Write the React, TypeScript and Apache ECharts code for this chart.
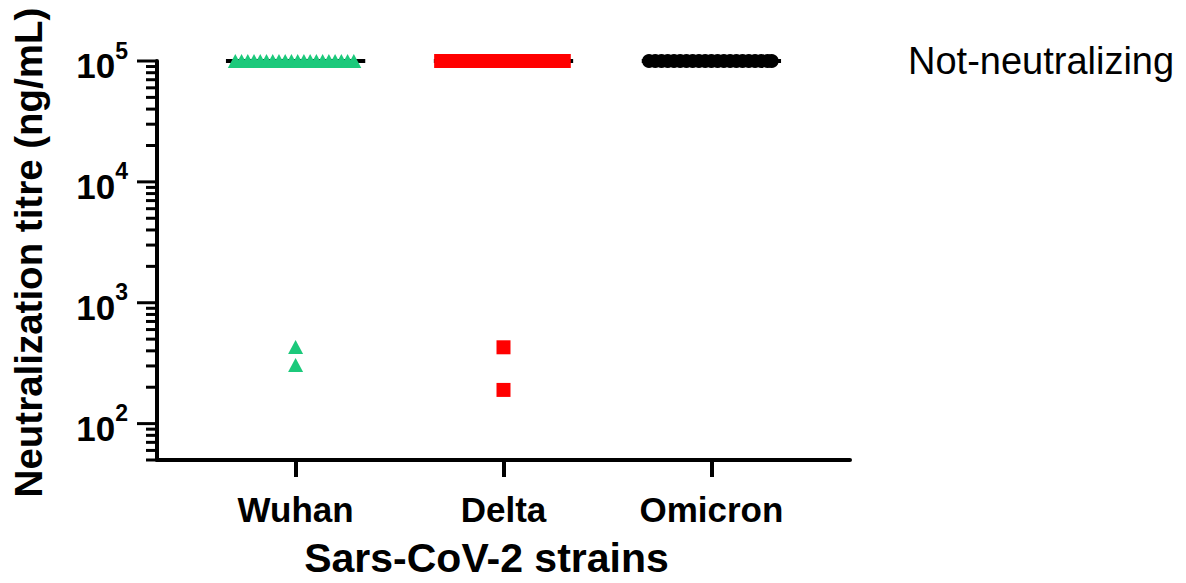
import React, { useEffect, useRef } from "react";
import * as echarts from "echarts";

const strains = ["Wuhan", "Delta", "Omicron"];
const strainPos = [1, 2, 3];

// x positions of the spread points plotted at the not-neutralizing ceiling (1e5)
const wuhanTopX = [0.71, 0.74, 0.77, 0.8, 0.83, 0.86, 0.89, 0.92, 0.95, 0.98, 1.01, 1.04, 1.07, 1.1, 1.13, 1.16, 1.19, 1.22, 1.25, 1.28];
const deltaTopX = [1.7, 1.73, 1.76, 1.79, 1.82, 1.85, 1.88, 1.91, 1.94, 1.97, 2.0, 2.03, 2.06, 2.09, 2.12, 2.15, 2.18, 2.21, 2.24, 2.27, 2.29];
const omicronTopX = [2.7, 2.73, 2.76, 2.79, 2.82, 2.85, 2.88, 2.91, 2.94, 2.97, 3.0, 3.03, 3.06, 3.09, 3.12, 3.15, 3.18, 3.21, 3.24, 3.27, 3.29];
const ceiling = 100000;
const wuhanNeutralizing = [430, 305];
const deltaNeutralizing = [428, 190];

const medians = [100000, 100000, 100000];
const medianHalfWidth = 0.335;

const yMin = 50;
const yMax = 100000;
const majorTicks = [100, 1000, 10000, 100000];
const minorTicks = [
  50, 60, 70, 80, 90,
  200, 300, 400, 500, 600, 700, 800, 900,
  2000, 3000, 4000, 5000, 6000, 7000, 8000, 9000,
  20000, 30000, 40000, 50000, 60000, 70000, 80000, 90000,
];

const FONT = "'Liberation Sans', Arial, sans-serif";

export default function App() {
  const ref = useRef<HTMLDivElement>(null);
  useEffect(() => {
    if (!ref.current) return;
    const chart = echarts.init(ref.current, undefined, { renderer: "svg" });

    const tickData = [
      ...majorTicks.map((v) => [1, v, 20]),
      ...minorTicks.map((v) => [1, v, 11]),
    ];

    const medianSeries = medians.map((m, i) => ({
      type: "line",
      data: [
        [strainPos[i] - medianHalfWidth, m],
        [strainPos[i] + medianHalfWidth, m],
      ],
      symbol: "none",
      lineStyle: { color: "#000", width: 4 },
      z: 1,
      silent: true,
    }));

    chart.setOption({
      animation: false,
      backgroundColor: "#fff",
      textStyle: { fontFamily: FONT },
      grid: { left: 157, top: 61, right: 336, bottom: 123, outerBoundsMode: "none", containLabel: false },
      xAxis: {
        type: "value",
        min: 1 / 3,
        max: 11 / 3,
        name: "Sars-CoV-2 strains",
        nameLocation: "middle",
        nameGap: 77,
        nameTextStyle: { fontSize: 41, fontWeight: "bold", color: "#000", fontFamily: FONT, padding: [0, 34, 0, 0] },
        axisLine: { show: true, lineStyle: { color: "#000", width: 4 } },
        axisTick: { show: true, customValues: strainPos, length: 17, lineStyle: { color: "#000", width: 4 } },
        axisLabel: {
          customValues: strainPos,
          margin: 32,
          fontSize: 35,
          fontWeight: "bold",
          color: "#000",
          fontFamily: FONT,
          formatter: (v: number) => strains[Math.round(v) - 1] ?? "",
        },
        splitLine: { show: false },
      },
      yAxis: {
        type: "log",
        logBase: 10,
        min: yMin,
        max: yMax,
        name: "Neutralization titre (ng/mL)",
        nameLocation: "middle",
        nameGap: 109,
        nameTextStyle: { fontSize: 38.5, fontWeight: "bold", color: "#000", fontFamily: FONT, padding: [0, 0, 0, 16] },
        axisLine: { show: true, lineStyle: { color: "#000", width: 4 } },
        axisTick: { show: false },
        splitLine: { show: false },
        axisLabel: {
          margin: 29,
          color: "#000",
          fontFamily: FONT,
          formatter: (v: number) => {
            const e = Math.log10(v);
            if (Math.abs(e - Math.round(e)) > 1e-6) return "";
            return `{b|10}{s|${Math.round(e)}}`;
          },
          rich: {
            b: { fontSize: 35, fontWeight: "bold", color: "#000", fontFamily: FONT, lineHeight: 44, verticalAlign: "bottom" },
            s: { fontSize: 23, fontWeight: "bold", color: "#000", fontFamily: FONT, lineHeight: 23, verticalAlign: "top" },
          },
        },
      },
      graphic: [
        {
          type: "text",
          left: 908,
          top: 42,
          style: { text: "Not-neutralizing", fontSize: 38, fontFamily: FONT, fill: "#000" },
        },
      ],
      series: [
        {
          type: "custom",
          clip: false,
          silent: true,
          data: tickData,
          renderItem: (params: any, api: any) => {
            const y = api.coord([api.value(0), api.value(1)])[1];
            const x0 = params.coordSys.x;
            const len = api.value(2);
            return {
              type: "line",
              shape: { x1: x0 - len, y1: y, x2: x0, y2: y },
              style: { stroke: "#000", lineWidth: 3 },
            };
          },
          z: 3,
        },
        ...medianSeries,
        {
          type: "scatter",
          symbol: "triangle",
          symbolSize: [15, 14],
          itemStyle: { color: "#1cc97b", opacity: 1 },
          data: [
            ...wuhanTopX.map((x) => [x, ceiling]),
            ...wuhanNeutralizing.map((v) => [1, v]),
          ],
          z: 2,
        },
        {
          type: "scatter",
          symbol: "rect",
          symbolSize: 14,
          itemStyle: { color: "#ff0000", opacity: 1 },
          data: [
            ...deltaTopX.map((x) => [x, ceiling]),
            ...deltaNeutralizing.map((v) => [2, v]),
          ],
          z: 2,
        },
        {
          type: "scatter",
          symbol: "circle",
          symbolSize: 14,
          itemStyle: { color: "#000", opacity: 1 },
          data: omicronTopX.map((x) => [x, ceiling]),
          z: 2,
        },
      ],
    });
    return () => chart.dispose();
  }, []);
  return <div ref={ref} style={{ width: 1186, height: 583, position: "absolute", left: 0, top: 0 }} />;
}
